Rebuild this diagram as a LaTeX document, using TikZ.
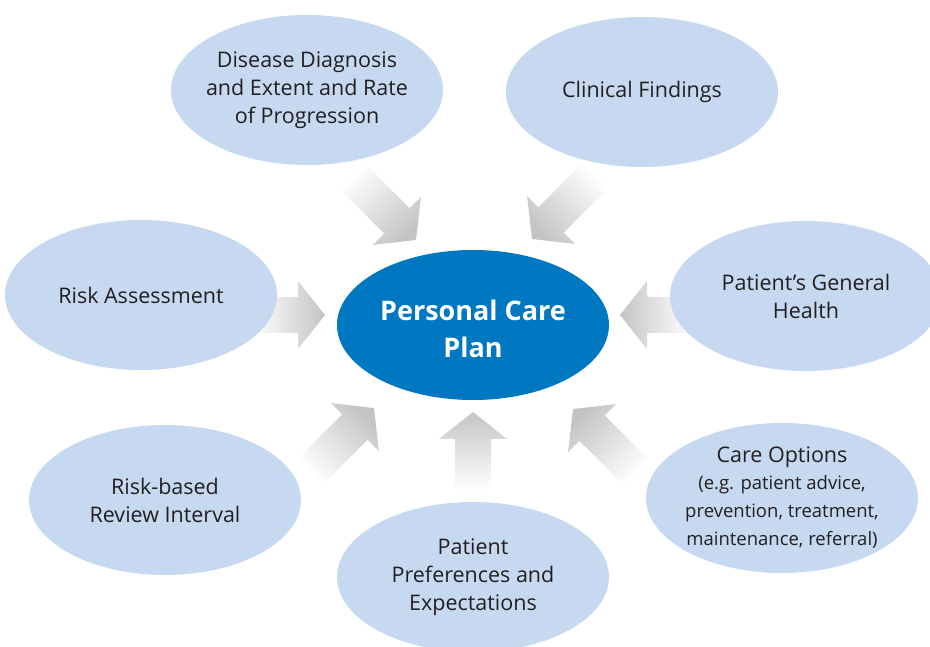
\documentclass[tikz,border=0pt]{standalone}
\usepackage{fontspec}
\setmainfont{Open Sans}
\usetikzlibrary{shapes.geometric,calc}
\definecolor{bubblefill}{HTML}{C6D9F0}
\definecolor{corefill}{HTML}{0077C1}
\definecolor{txt}{HTML}{231F20}
\definecolor{arrowgray}{HTML}{C4C4C6}
% #1 tip coordinate, #2 direction of the head (degrees), #3 total length
\newcommand{\blockarrow}[3]{%
  \shade[left color=white, right color=arrowgray, shading angle=#2+90]
    ($(#1)+(#2+180:#3)+(#2+90:18)$) --
    ($(#1)+(#2+180:27)+(#2+90:18)$) --
    ($(#1)+(#2+180:27)+(#2+90:34)$) --
    (#1) --
    ($(#1)+(#2+180:27)+(#2-90:34)$) --
    ($(#1)+(#2+180:27)+(#2-90:18)$) --
    ($(#1)+(#2+180:#3)+(#2-90:18)$) -- cycle;}
\newcommand{\smalltext}{\fontsize{18.5}{24}\selectfont}
\begin{document}
\begin{tikzpicture}[x=1pt,y=1pt,
  bubble/.style={ellipse, fill=bubblefill, minimum width=272pt, minimum height=150pt,
    inner xsep=-25pt, inner ysep=0pt, align=center, text=txt, font=\fontsize{21.5}{28}\selectfont},
  corebubble/.style={ellipse, fill=corefill, minimum width=272pt, minimum height=150pt,
    inner sep=0pt},
  coretext/.style={align=center, text=white, inner sep=0pt,
    font=\fontsize{27}{37}\selectfont\bfseries}]
\useasboundingbox (0,0) rectangle (930,646);
\clip (0,0) rectangle (930,646);
% arrow tips
\coordinate (tTL) at (416,406);
\coordinate (tTR) at (532,407);
\coordinate (tL) at (325,331);
\coordinate (tR) at (620,331);
\coordinate (tBL) at (374,238);
\coordinate (tBC) at (473,234);
\coordinate (tBR) at (573,237);
\blockarrow{tTL}{-45}{90}
\blockarrow{tTR}{-135}{90}
\blockarrow{tL}{0}{72}
\blockarrow{tR}{180}{72}
\blockarrow{tBL}{45}{90}
\blockarrow{tBC}{90}{78}
\blockarrow{tBR}{135}{90}
% bubbles
\node[bubble] (diag) at (307,556) {Disease Diagnosis\\and Extent and Rate\\of Progression};
\node[bubble] (clin) at (642,554) {Clinical Findings};
\node[bubble] (risk) at (141,351) {Risk Assessment};
\node[bubble] (health) at (806,350) {Patient’s General\\Health};
\node[bubble] (review) at (165,146) {Risk-based\\Review Interval};
\node[bubble] (pref) at (473,69) {Patient\\Preferences and\\Expectations};
\node[bubble] (care) at (782,148) {Care Options\\[-1pt]\smalltext (e.g. patient advice,\\\smalltext prevention, treatment,\\\smalltext maintenance, referral)};
\node[corebubble] (plan) at (473,321) {};
\node[coretext] (plantext) at ([yshift=-4pt]plan.center) {Personal Care\\Plan};
\end{tikzpicture}
\end{document}
